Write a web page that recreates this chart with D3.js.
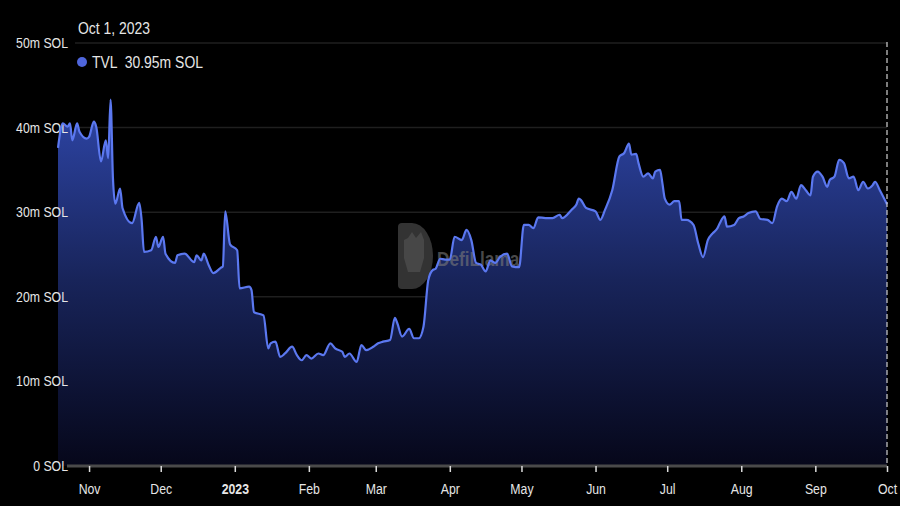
<!DOCTYPE html>
<html lang="en">
<head>
    <meta charset="UTF-8">
    <title>TVL</title>
    <script src="https://d3js.org/d3.v7.min.js"></script>
</head>
<style>
    body {
        margin: 0;
        background-color: #000;
    }
    text {
        font-family: "Liberation Sans", Arial, sans-serif;
    }
</style>
<body>
<svg id="main" width="900" height="506"></svg>
<script>
    // TVL in millions of SOL
    const dates = [
        '2022-10-19','2022-10-21','2022-10-23','2022-10-24','2022-10-25','2022-10-27','2022-10-28','2022-10-31',
        '2022-11-01','2022-11-03','2022-11-04','2022-11-06','2022-11-08','2022-11-09','2022-11-10','2022-11-11',
        '2022-11-12','2022-11-14','2022-11-15','2022-11-19','2022-11-22','2022-11-23','2022-11-24','2022-11-27',
        '2022-11-29','2022-11-30','2022-12-02','2022-12-03','2022-12-07','2022-12-08','2022-12-11','2022-12-15',
        '2022-12-16','2022-12-18','2022-12-19','2022-12-21','2022-12-23','2022-12-26','2022-12-27','2022-12-28',
        '2022-12-30','2023-01-02','2023-01-03','2023-01-07','2023-01-08','2023-01-09','2023-01-13','2023-01-15',
        '2023-01-16','2023-01-18','2023-01-20','2023-01-22','2023-01-25','2023-01-27','2023-01-29','2023-01-31',
        '2023-02-02','2023-02-05','2023-02-07','2023-02-10','2023-02-12','2023-02-15','2023-02-16','2023-02-18',
        '2023-02-21','2023-02-23','2023-02-25','2023-02-28','2023-03-02','2023-03-04','2023-03-07','2023-03-09',
        '2023-03-10','2023-03-12','2023-03-15','2023-03-17','2023-03-19','2023-03-21','2023-03-23','2023-03-25',
        '2023-03-26','2023-03-28','2023-03-30','2023-04-01','2023-04-03','2023-04-06','2023-04-08','2023-04-10',
        '2023-04-12','2023-04-14','2023-04-16','2023-04-18','2023-04-20','2023-04-22','2023-04-25','2023-04-27',
        '2023-04-30','2023-05-02','2023-05-04','2023-05-06','2023-05-08','2023-05-11','2023-05-14','2023-05-17',
        '2023-05-18','2023-05-22','2023-05-24','2023-05-25','2023-05-26','2023-05-28','2023-06-01','2023-06-03',
        '2023-06-05','2023-06-08','2023-06-11','2023-06-13','2023-06-15','2023-06-16','2023-06-18','2023-06-19',
        '2023-06-21','2023-06-23','2023-06-25','2023-06-26','2023-06-28','2023-06-29','2023-06-30','2023-07-02',
        '2023-07-04','2023-07-06','2023-07-07','2023-07-09','2023-07-12','2023-07-14','2023-07-16','2023-07-18',
        '2023-07-20','2023-07-22','2023-07-23','2023-07-25','2023-07-26','2023-07-29','2023-07-31','2023-08-02',
        '2023-08-04','2023-08-07','2023-08-09','2023-08-12','2023-08-14','2023-08-16','2023-08-18','2023-08-20',
        '2023-08-22','2023-08-24','2023-08-26','2023-08-28','2023-08-30','2023-08-31','2023-09-02','2023-09-04',
        '2023-09-06','2023-09-07','2023-09-09','2023-09-11','2023-09-13','2023-09-15','2023-09-17','2023-09-19',
        '2023-09-21','2023-09-23','2023-09-25','2023-09-26','2023-09-28','2023-10-01'
    ];
    const tvl = [
        37.6, 40.5, 40.1, 40.5, 38.5, 40.5, 39.5, 38.7,
        38.9, 40.7, 40.1, 36.0, 38.5, 36.4, 43.3, 34.0,
        31.0, 32.8, 30.5, 28.7, 31.1, 29.1, 25.3, 25.5,
        27.1, 25.9, 27.1, 25.1, 24.0, 24.9, 25.1, 24.1,
        24.9, 24.3, 25.1, 23.8, 22.8, 23.4, 23.6, 30.1,
        26.2, 25.5, 21.0, 21.2, 20.8, 18.2, 17.8, 13.9,
        14.5, 14.7, 12.9, 13.3, 14.1, 13.1, 12.5, 13.1,
        12.7, 13.3, 13.1, 14.5, 13.9, 13.5, 12.9, 13.3,
        12.3, 14.3, 13.7, 14.1, 14.5, 14.7, 14.9, 17.5,
        16.9, 15.3, 16.2, 15.1, 15.1, 16.5, 22.0, 23.2,
        23.3, 24.5, 24.4, 24.4, 27.1, 26.7, 27.9, 26.7,
        24.0, 23.8, 23.0, 24.3, 24.0, 24.7, 25.1, 23.6,
        23.5, 28.5, 28.5, 28.1, 29.4, 29.3, 29.3, 29.7,
        29.3, 30.3, 30.9, 31.6, 31.4, 30.5, 30.1, 29.1,
        30.3, 32.6, 36.6, 37.0, 38.1, 36.8, 36.9, 35.8,
        34.2, 34.6, 34.0, 34.8, 35.0, 33.4, 31.6, 30.9,
        31.3, 31.3, 29.1, 29.1, 28.5, 26.3, 24.7, 26.7,
        27.5, 28.1, 28.7, 29.5, 28.3, 28.5, 29.3, 29.5,
        29.9, 30.1, 29.2, 29.1, 28.7, 30.7, 31.6, 31.3,
        32.4, 31.6, 33.2, 32.6, 32.0, 34.2, 34.8, 34.2,
        33.0, 33.8, 34.2, 36.2, 35.8, 34.0, 34.2, 32.6,
        33.6, 32.8, 33.2, 33.6, 32.6, 30.95
    ];
    const yTicks = [0, 10, 20, 30, 40, 50];
    const yTickLabels = ['0 SOL', '10m SOL', '20m SOL', '30m SOL', '40m SOL', '50m SOL'];
    const xTicks = ['2022-11-01','2022-12-01','2023-01-01','2023-02-01','2023-03-01','2023-04-01',
        '2023-05-01','2023-06-01','2023-07-01','2023-08-01','2023-09-01','2023-10-01'];
    const xTickLabels = ['Nov','Dec','2023','Feb','Mar','Apr','May','Jun','Jul','Aug','Sep','Oct'];

    let svg = d3.select('svg#main');
    let parse = d3.utcParse('%Y-%m-%d');
    let data = dates.map((d, i) => ({date: parse(d), value: tvl[i]}));
    let squeeze = 0.82; // the picture's text is horizontally condensed

    let x = d3.scaleUtc()
        .domain([parse('2022-10-19'), parse('2023-10-01')])
        .range([58, 887]);
    let y = d3.scaleLinear()
        .domain([0, 50])
        .range([466, 43]);

    // gradient for the area
    let defs = svg.append('defs');
    let grad = defs.append('linearGradient')
        .attr('id', 'fillGrad')
        .attr('gradientUnits', 'userSpaceOnUse')
        .attr('x1', 0).attr('x2', 0)
        .attr('y1', y(44)).attr('y2', y(0));
    grad.append('stop').attr('offset', '0%').attr('stop-color', '#2f47ab');
    grad.append('stop').attr('offset', '50%').attr('stop-color', '#18245a');
    grad.append('stop').attr('offset', '100%').attr('stop-color', '#06071a');

    // grid lines
    svg.append('g')
        .selectAll('line')
        .data(yTicks.slice(1))
        .enter()
        .append('line')
        .attr('x1', 75).attr('x2', 887)
        .attr('y1', d => y(d)).attr('y2', d => y(d))
        .attr('stroke', '#1f1f1f')
        .attr('stroke-width', 1.5);

    let area = d3.area()
        .x(d => x(d.date))
        .y0(y(0))
        .y1(d => y(d.value))
        .curve(d3.curveMonotoneX);

    let line = d3.line()
        .x(d => x(d.date))
        .y(d => y(d.value))
        .curve(d3.curveMonotoneX);

    svg.append('path')
        .datum(data)
        .attr('fill', 'url(#fillGrad)')
        .attr('d', area);

    // y labels
    svg.append('g')
        .selectAll('text')
        .data(yTicks)
        .enter()
        .append('text')
        .attr('transform', d => 'translate(68,' + (y(d) + 5) + ') scale(' + squeeze + ',1)')
        .attr('text-anchor', 'end')
        .attr('fill', '#e6e6e6')
        .attr('font-size', 15)
        .text((d, i) => yTickLabels[i]);

    // watermark
    let wm = svg.append('g').attr('opacity', 0.6);
    wm.append('path')
        .attr('d', 'M402,223 h10 a21,33 0 0 1 0,66 h-10 a4,4 0 0 1 -4,-4 v-58 a4,4 0 0 1 4,-4 z')
        .attr('fill', '#555');
    wm.append('path')
        .attr('d', 'M408,238 l4,-6 l4,6 l5,-6 l3,8 v18 l-4,14 h-12 l-4,-14 v-18 z')
        .attr('fill', '#777');
    wm.append('text')
        .attr('transform', 'translate(437,266) scale(' + squeeze + ',1)')
        .attr('fill', '#7a7a7a')
        .attr('font-size', 21)
        .attr('font-weight', 'bold')
        .text('DefiLlama');

    svg.append('path')
        .datum(data)
        .attr('fill', 'none')
        .attr('stroke', '#5b78f0')
        .attr('stroke-width', 2.2)
        .attr('stroke-linejoin', 'round')
        .attr('d', line);

    // x axis
    let xAxis = d3.axisBottom(x)
        .tickValues(xTicks.map(parse))
        .tickFormat((d, i) => xTickLabels[i])
        .tickSize(6)
        .tickPadding(11);

    let gx = svg.append('g')
        .attr('transform', 'translate(0,466)')
        .call(xAxis);
    gx.select('.domain').remove();
    gx.insert('line', ':first-child')
        .attr('x1', 67).attr('x2', 887)
        .attr('y1', 0).attr('y2', 0)
        .attr('stroke', '#4a4a4a')
        .attr('stroke-width', 3);
    gx.selectAll('.tick line').attr('stroke', '#dcdcdc').attr('stroke-width', 1.5);
    gx.selectAll('.tick text')
        .attr('fill', '#e6e6e6')
        .attr('font-size', 15)
        .attr('transform', 'scale(' + squeeze + ',1)')
        .attr('font-family', '"Liberation Sans", Arial, sans-serif')
        .attr('font-weight', (d, i) => xTickLabels[i] === '2023' ? 'bold' : 'normal');

    // crosshair at the hovered date
    svg.append('line')
        .attr('x1', x(parse('2023-10-01'))).attr('x2', x(parse('2023-10-01')))
        .attr('y1', 42).attr('y2', 466)
        .attr('stroke', '#d0d0d0')
        .attr('stroke-width', 1.2)
        .attr('stroke-dasharray', '5,3');

    // tooltip header
    svg.append('text')
        .attr('transform', 'translate(78,34) scale(' + squeeze + ',1)')
        .attr('fill', '#e6e6e6')
        .attr('font-size', 17)
        .text('Oct 1, 2023');
    svg.append('circle')
        .attr('cx', 82).attr('cy', 62).attr('r', 5)
        .attr('fill', '#4f66dc');
    svg.append('text')
        .attr('transform', 'translate(92,68) scale(' + squeeze + ',1)')
        .attr('fill', '#e6e6e6')
        .attr('font-size', 17)
        .attr('xml:space', 'preserve')
        .text('TVL  ' + d3.format('.2f')(tvl[tvl.length - 1]) + 'm SOL');
</script>
</body>
</html>
